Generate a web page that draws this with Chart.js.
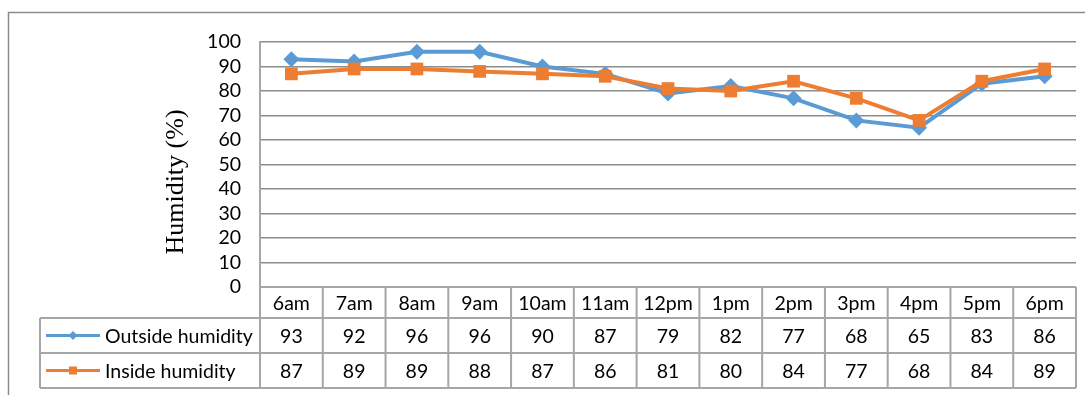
<!DOCTYPE html>
<html>
<head>
<meta charset="utf-8">
<script src="https://cdn.jsdelivr.net/npm/chart.js@4.4.1/dist/chart.umd.min.js"></script>
<style>
    html, body { margin: 0; padding: 0; background: #fff; }
    #wrap { width: 1085px; height: 395px; }
</style>
</head>
<body>
<div id="wrap"><canvas id="humidityChart" width="1085" height="395"></canvas></div>
<script>
// 数据
const hours = ["6am", "7am", "8am", "9am", "10am", "11am", "12pm", "1pm", "2pm", "3pm", "4pm", "5pm", "6pm"];
const outsideHumidity = [93, 92, 96, 96, 90, 87, 79, 82, 77, 68, 65, 83, 86];
const insideHumidity = [87, 89, 89, 88, 87, 86, 81, 80, 84, 77, 68, 84, 89];
const seriesNames = ["Outside humidity", "Inside humidity"];
const yMin = 0, yMax = 100, yStep = 10;

const blue = "#5b9bd5";
const orange = "#ed7d31";
const gridColor = "#8c8c8c";
const tableLine = "#a6a6a6";
const labelFont = "19.5px Lato, 'Open Sans', sans-serif";

// 数据表 + 外框 + 轴标题
const dataTablePlugin = {
    id: "dataTable",
    afterDraw(chart) {
        const ctx = chart.ctx;
        const area = chart.chartArea;
        const x = chart.scales.x;
        const colW = x.getPixelForValue(1) - x.getPixelForValue(0);
        const left = x.getPixelForValue(0) - colW / 2;
        const right = left + colW * hours.length;
        const top = area.bottom;
        const rowH = [31, 35, 35];
        const tableLeft = 40;
        const rows = [outsideHumidity, insideHumidity];
        const colors = [blue, orange];

        ctx.save();
        // 外框
        ctx.strokeStyle = gridColor;
        ctx.lineWidth = 1.5;
        ctx.strokeRect(8.5, 12.5, 1200, 500);

        // 表格线
        ctx.strokeStyle = tableLine;
        ctx.lineWidth = 2;
        const y1 = top + rowH[0];
        const y2 = y1 + rowH[1];
        const y3 = y2 + rowH[2];
        ctx.beginPath();
        ctx.moveTo(left, top); ctx.lineTo(right, top);
        ctx.moveTo(tableLeft, y1); ctx.lineTo(right, y1);
        ctx.moveTo(tableLeft, y2); ctx.lineTo(right, y2);
        ctx.moveTo(tableLeft, y3); ctx.lineTo(right, y3);
        ctx.moveTo(tableLeft, y1); ctx.lineTo(tableLeft, y3);
        for (let i = 0; i <= hours.length; i++) {
            const cx = left + i * colW;
            ctx.moveTo(cx, top); ctx.lineTo(cx, y3);
        }
        ctx.stroke();

        // 表格文字
        ctx.fillStyle = "#000";
        ctx.font = labelFont;
        ctx.textAlign = "center";
        ctx.textBaseline = "middle";
        hours.forEach((h, i) => {
            const cx = x.getPixelForValue(i);
            ctx.fillText(h, cx, top + rowH[0] / 2 + 1);
            ctx.fillText(String(rows[0][i]), cx, y1 + rowH[1] / 2 + 1);
            ctx.fillText(String(rows[1][i]), cx, y2 + rowH[2] / 2 + 1);
        });

        // 图例
        [y1 + rowH[1] / 2, y2 + rowH[2] / 2].forEach((cy, r) => {
            ctx.strokeStyle = colors[r];
            ctx.fillStyle = colors[r];
            ctx.lineWidth = 3;
            ctx.beginPath();
            ctx.moveTo(46, cy); ctx.lineTo(100, cy);
            ctx.stroke();
            ctx.beginPath();
            if (r === 0) {
                ctx.moveTo(73, cy - 4.5); ctx.lineTo(77.5, cy); ctx.lineTo(73, cy + 4.5); ctx.lineTo(68.5, cy);
                ctx.closePath();
            } else {
                ctx.rect(69, cy - 4, 8, 8);
            }
            ctx.fill();
            ctx.fillStyle = "#000";
            ctx.textAlign = "left";
            ctx.fillText(seriesNames[r], 105, cy + 1);
        });

        // Y 轴标题
        ctx.translate(176, 182);
        ctx.rotate(-Math.PI / 2);
        ctx.font = "26px 'Liberation Serif', 'Times New Roman', serif";
        ctx.textAlign = "center";
        ctx.textBaseline = "middle";
        ctx.fillStyle = "#000";
        ctx.fillText("Humidity (%)", 0, 0);
        ctx.restore();
    }
};

const ctx = document.getElementById("humidityChart").getContext("2d");
const humidityChart = new Chart(ctx, {
    type: "line",
    data: {
        labels: hours,
        datasets: [{
            label: seriesNames[0],
            data: outsideHumidity,
            borderColor: blue,
            backgroundColor: blue,
            borderWidth: 4,
            pointStyle: "rectRot",
            pointRadius: 8,
            pointBorderWidth: 0,
            tension: 0,
            order: 1,
        }, {
            label: seriesNames[1],
            data: insideHumidity,
            borderColor: orange,
            backgroundColor: orange,
            borderWidth: 4,
            pointStyle: "rect",
            pointRadius: 9,
            pointBorderWidth: 0,
            tension: 0,
            order: 0,
        }],
    },
    options: {
        responsive: false,
        animation: false,
        layout: {
            padding: { top: 42, right: 7, bottom: 108, left: 0 },
        },
        plugins: {
            legend: { display: false },
            tooltip: { enabled: false },
        },
        scales: {
            x: {
                display: false,
                offset: true,
            },
            y: {
                min: yMin,
                max: yMax,
                afterFit(scale) {
                    scale.width = 260;
                },
                ticks: {
                    stepSize: yStep,
                    autoSkip: false,
                    color: "#000",
                    padding: 19,
                    font: { family: "Lato, 'Open Sans', sans-serif", size: 19.5 },
                },
                grid: {
                    color: gridColor,
                    lineWidth: 1.5,
                    drawTicks: false,
                },
                border: {
                    display: true,
                    color: tableLine,
                    width: 2,
                },
            },
        },
    },
    plugins: [dataTablePlugin],
});
</script>
</body>
</html>
